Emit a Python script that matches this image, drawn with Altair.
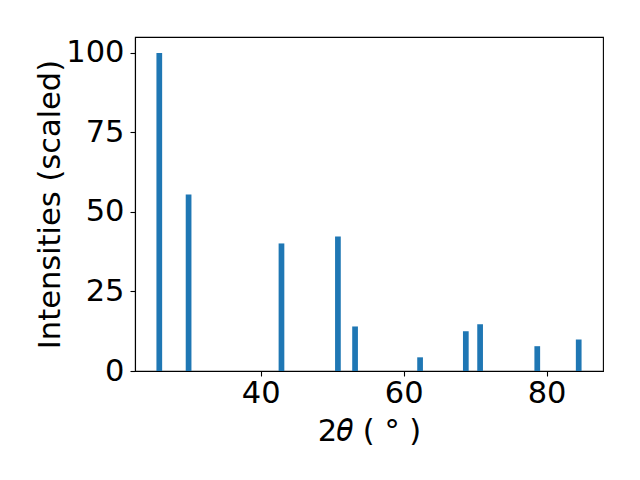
import altair as alt
import pandas as pd

two_theta = [25.8, 29.9, 42.9, 50.8, 53.2, 62.3, 68.7, 70.7, 78.7, 84.5]
intensity = [100, 55.5, 40.1, 42.3, 14.0, 4.3, 12.5, 14.7, 7.8, 9.9]
bar_width = 0.8

df = pd.DataFrame({"tt": two_theta, "inten": intensity})

FONT = "DejaVu Sans"
FS = 30.5

chart = (
    alt.Chart(df)
    .transform_calculate(x0=f"datum.tt - {bar_width/2}", x1=f"datum.tt + {bar_width/2}")
    .mark_bar(color="#1f77b4")
    .encode(
        x=alt.X(
            "x0:Q",
            scale=alt.Scale(domain=[22.4, 87.9], nice=False, zero=False),
            axis=alt.Axis(
                title="2𝜃 ( ° )",
                values=[40, 60, 80],
                grid=False,
                tickSize=5,
                labelPadding=2.5,
                titlePadding=7,
            ),
        ),
        x2="x1:Q",
        y=alt.Y(
            "inten:Q",
            scale=alt.Scale(domain=[0, 105], nice=False),
            axis=alt.Axis(
                title="Intensities (scaled)",
                values=[0, 25, 50, 75, 100],
                grid=False,
                tickSize=5,
                labelPadding=6,
                titlePadding=0,
            ),
        ),
        y2=alt.datum(0),
    )
    .properties(
        width=468,
        height=334,
        autosize=alt.AutoSizeParams(type="none"),
        padding={"left": 127, "top": 29, "right": 20, "bottom": 80},
    )
    .configure_view(stroke="black", strokeWidth=1.1)
    .configure_axis(
        labelFont=FONT,
        titleFont=FONT,
        labelFontSize=FS,
        titleFontSize=FS,
        titleFontWeight="normal",
        labelColor="black",
        titleColor="black",
        domainColor="black",
        tickColor="black",
        domainWidth=1.1,
        tickWidth=1.1,
        labelFlush=False,
        labelOverlap=False,
    )
)

chart.save("out.html", embed_options={"renderer": "svg", "actions": False})
